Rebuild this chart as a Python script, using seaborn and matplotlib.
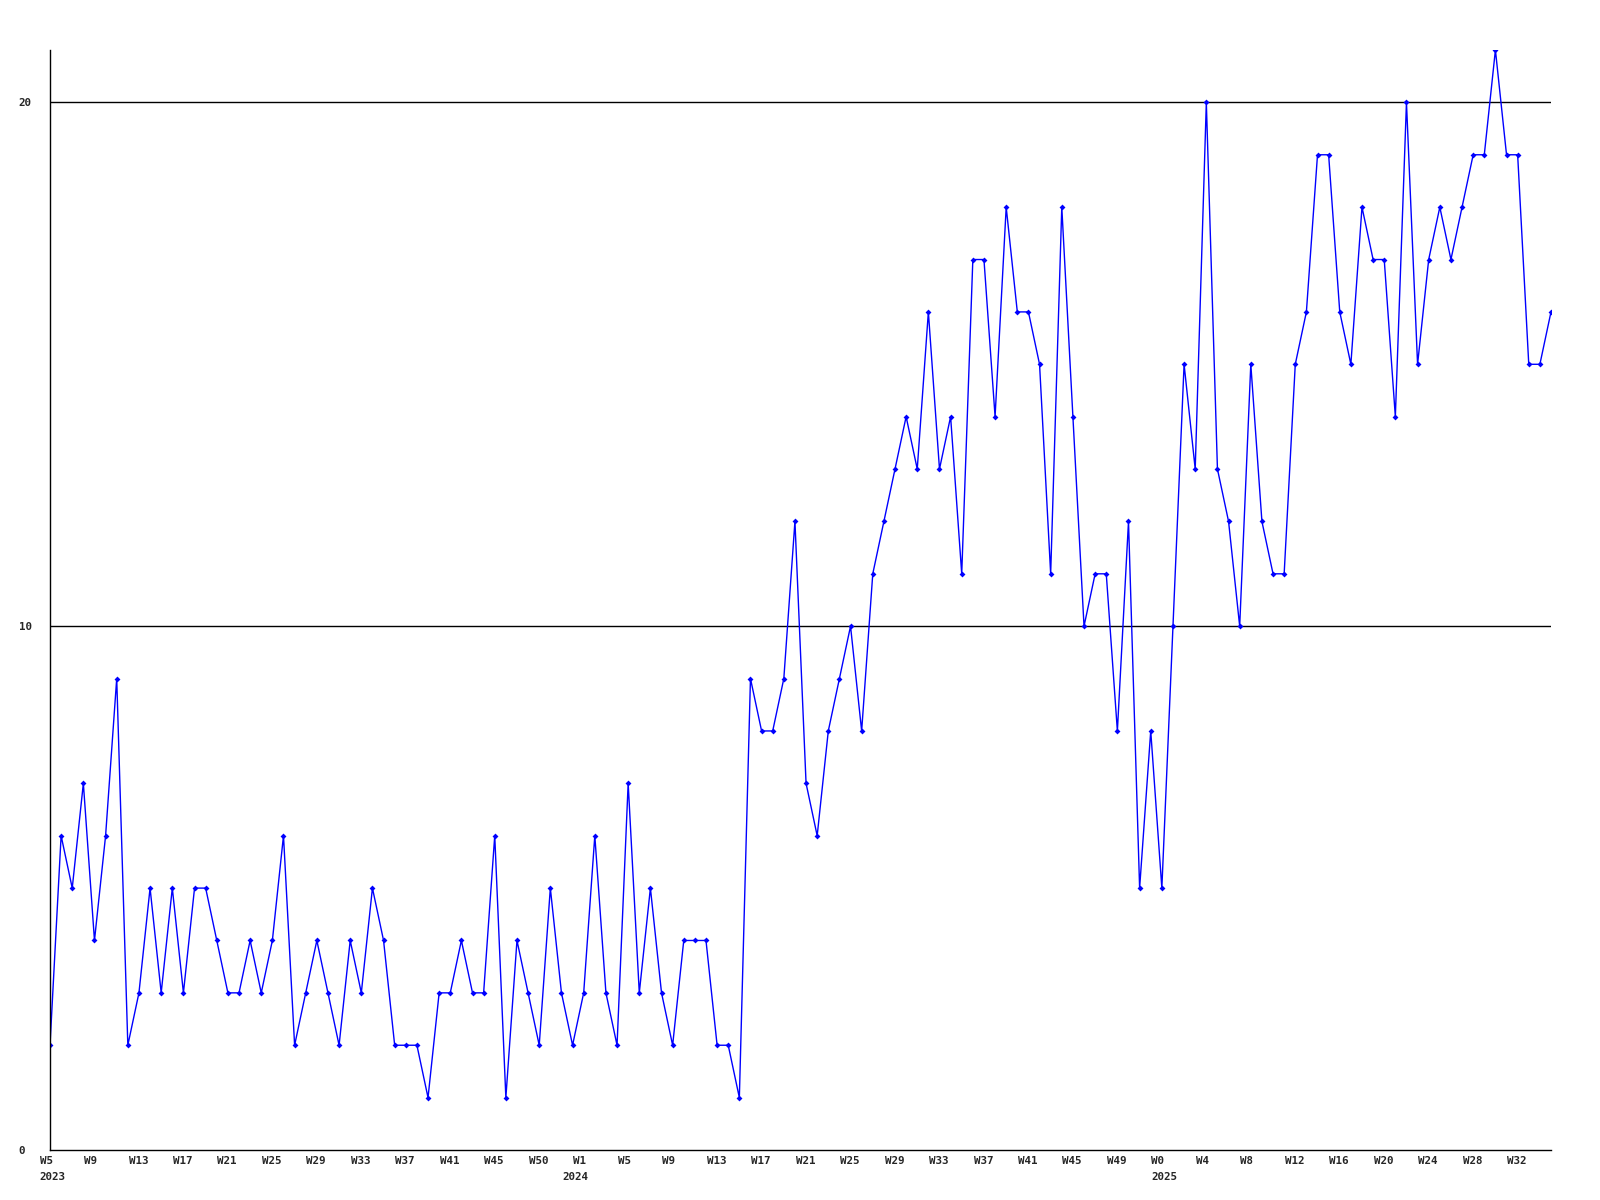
import numpy as np
import pandas as pd
import matplotlib
matplotlib.use("Agg")
import matplotlib.pyplot as plt
import seaborn as sns

# weekly counts, W5 2023 .. W34 2025
counts = [
    2, 6, 5, 7, 4, 6, 9, 2, 3, 5, 3, 5, 3, 5, 5, 4, 3, 3, 4, 3,
    4, 6, 2, 3, 4, 3, 2, 4, 3, 5, 4, 2, 2, 2, 1, 3, 3, 4, 3, 3,
    6, 1, 4, 3, 2, 5, 3, 2, 3, 6, 3, 2, 7, 3, 5, 3, 2, 4, 4, 4,
    2, 2, 1, 9, 8, 8, 9, 12, 7, 6, 8, 9, 10, 8, 11, 12, 13, 14, 13, 16,
    13, 14, 11, 17, 17, 14, 18, 16, 16, 15, 11, 18, 14, 10, 11, 11, 8, 12, 5, 8,
    5, 10, 15, 13, 20, 13, 12, 10, 15, 12, 11, 11, 15, 16, 19, 19, 16, 15, 18, 17,
    17, 14, 20, 15, 17, 18, 17, 18, 19, 19, 21, 19, 19, 15, 15, 16,
]

# one label every 4 weeks
tick_weeks = ["W5", "W9", "W13", "W17", "W21", "W25", "W29", "W33", "W37", "W41",
              "W45", "W50", "W1", "W5", "W9", "W13", "W17", "W21", "W25", "W29",
              "W33", "W37", "W41", "W45", "W49", "W0", "W4", "W8", "W12", "W16",
              "W20", "W24", "W28", "W32"]
# year labels: week index where each year starts
year_starts = [0, 47, 100]
year_labels = ["2023", "2024", "2025"]

y_ticks = [0, 10, 20]

df = pd.DataFrame({"week": np.arange(len(counts)), "count": counts})

sns.set_theme(style="white")
plt.rcParams['font.family'] = ['DejaVu Sans Mono']

fig = plt.figure(figsize=(16, 12), dpi=100)
ax = fig.add_axes([50 / 1600, 50 / 1200, 1501 / 1600, 1100 / 1200])

sns.lineplot(data=df, x="week", y="count", ax=ax, color="#0000ff", linewidth=1,
             marker="D", markersize=3, markeredgewidth=0)

ax.set_xlim(0, len(counts) - 1)
ax.set_ylim(0, max(counts))

# x labels: left aligned, a little left of each tick
tick_pos = np.arange(0, len(counts), 4)[:len(tick_weeks)]
ax.set_xticks(tick_pos)
ax.set_xticklabels([])
for pos, w in zip(tick_pos, tick_weeks):
    ax.annotate(w, xy=(pos, 0), xycoords=("data", "axes fraction"),
                xytext=(-7.5, -4), textcoords="offset points",
                ha="left", va="top", fontsize=7.8, fontweight="bold")
for pos, yr in zip(year_starts, year_labels):
    ax.annotate(yr, xy=(pos, 0), xycoords=("data", "axes fraction"),
                xytext=(-7.5, -15.5), textcoords="offset points",
                ha="left", va="top", fontsize=7.8, fontweight="bold")

ax.set_yticks(y_ticks)
ax.set_yticklabels([str(v) for v in y_ticks], fontsize=7.8, fontweight="bold", ha="left")
ax.tick_params(axis="y", length=0, pad=22.5)
ax.tick_params(axis="x", length=0)

for v in y_ticks[1:]:
    ax.axhline(v, color="black", linewidth=1, zorder=0)

for side in ["top", "right"]:
    ax.spines[side].set_visible(False)
for side in ["left", "bottom"]:
    ax.spines[side].set_color("black")
    ax.spines[side].set_linewidth(1)

ax.set_xlabel("")
ax.set_ylabel("")
ax.set_facecolor("white")

fig.savefig("out.png", dpi=100, facecolor="white")
